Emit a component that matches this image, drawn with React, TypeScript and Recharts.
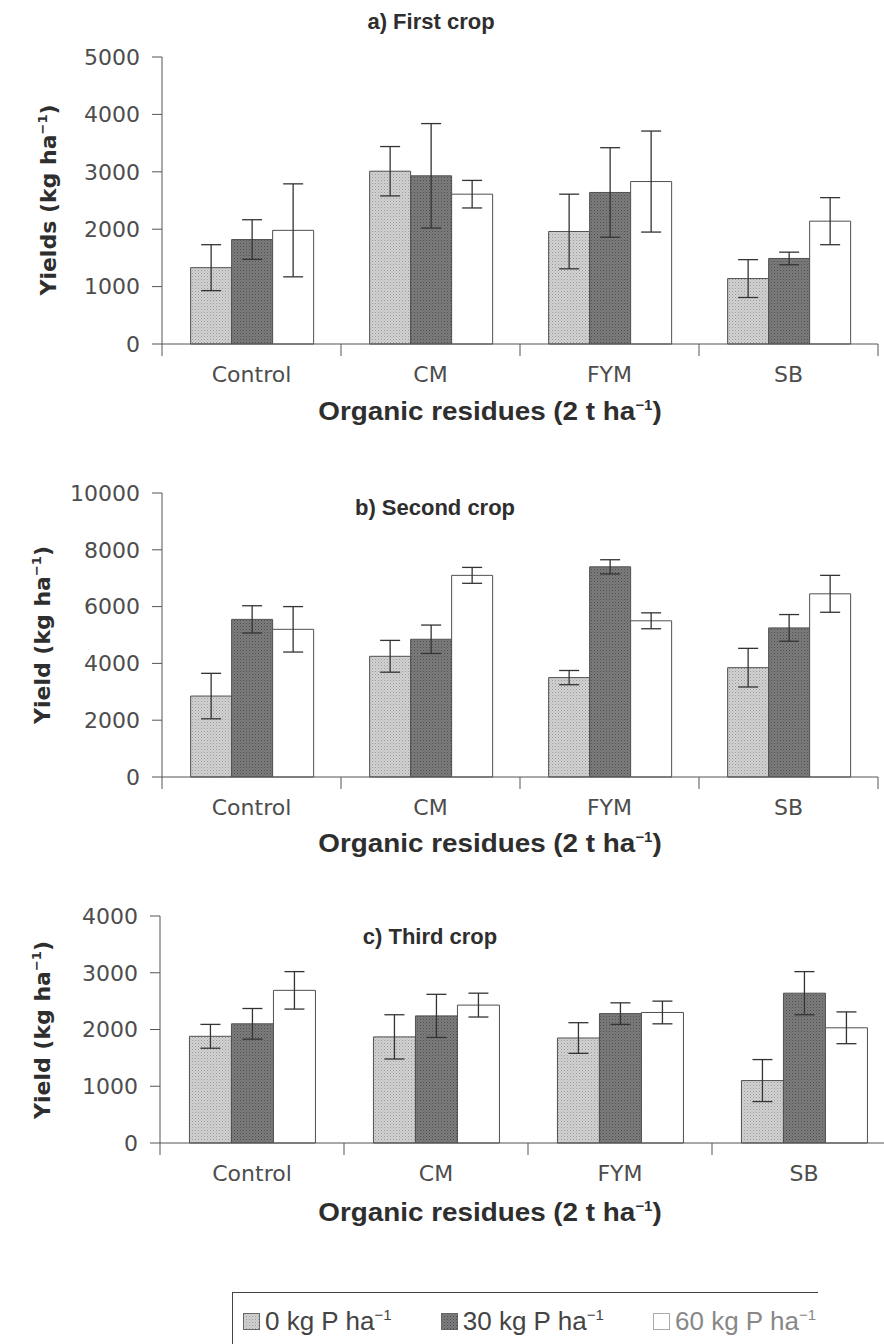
import React from 'react';
import { BarChart, Bar, XAxis, YAxis, ErrorBar } from 'recharts';

const categories = ['Control', 'CM', 'FYM', 'SB'];

// a) First crop
const firstP0 = [1330, 3010, 1960, 1140];
const firstP0Err = [400, 430, 650, 330];
const firstP30 = [1820, 2930, 2640, 1490];
const firstP30Err = [345, 910, 780, 110];
const firstP60 = [1980, 2610, 2830, 2140];
const firstP60Err = [810, 240, 880, 410];

// b) Second crop
const secondP0 = [2850, 4250, 3500, 3850];
const secondP0Err = [800, 560, 250, 680];
const secondP30 = [5550, 4850, 7400, 5250];
const secondP30Err = [480, 500, 250, 470];
const secondP60 = [5200, 7100, 5500, 6450];
const secondP60Err = [800, 280, 280, 650];

// c) Third crop
const thirdP0 = [1880, 1870, 1850, 1100];
const thirdP0Err = [210, 390, 270, 370];
const thirdP30 = [2100, 2240, 2280, 2640];
const thirdP30Err = [270, 380, 190, 380];
const thirdP60 = [2690, 2430, 2300, 2030];
const thirdP60Err = [330, 210, 200, 280];

const firstTicks = [0, 1000, 2000, 3000, 4000, 5000];
const secondTicks = [0, 2000, 4000, 6000, 8000, 10000];
const thirdTicks = [0, 1000, 2000, 3000, 4000];

const legendLabels = ['0 kg P ha', '30 kg P ha', '60 kg P ha'];

const buildRows = (p0: number[], e0: number[], p30: number[], e30: number[], p60: number[], e60: number[]) =>
  categories.map((name, i) => ({
    name,
    p0: p0[i],
    e0: e0[i],
    p30: p30[i],
    e30: e30[i],
    p60: p60[i],
    e60: e60[i],
  }));

const tickFont = { fontFamily: 'DejaVu Sans', fontSize: 22, fill: '#4d4d4d' };
const axisColor = '#555';
const barFills = ['url(#pat0)', 'url(#pat30)', '#ffffff'];
const LABEL_GAP = 22;

function Patterns() {
  return (
    <svg width={0} height={0} style={{ position: 'absolute' }}>
      <defs>
        <pattern id="pat0" width={3} height={3} patternUnits="userSpaceOnUse">
          <rect width={3} height={3} fill="#d2d2d2" />
          <rect width={1} height={1} fill="#9a9a9a" />
          <rect x={1.5} y={1.5} width={1} height={1} fill="#b0b0b0" />
        </pattern>
        <pattern id="pat30" width={3} height={3} patternUnits="userSpaceOnUse">
          <rect width={3} height={3} fill="#7c7c7c" />
          <rect width={1} height={1} fill="#4e4e4e" />
          <rect x={1.5} y={1.5} width={1} height={1} fill="#5e5e5e" />
        </pattern>
      </defs>
    </svg>
  );
}

// category label plus the tick marks that sit on the band edges
function makeCategoryTick(band: number) {
  return function CategoryTick(props: any) {
    const { x, y, payload, index } = props;
    const axisY = y - LABEL_GAP;
    return (
      <g>
        <line x1={x - band / 2} x2={x - band / 2} y1={axisY} y2={axisY + 12} stroke={axisColor} />
        {index === categories.length - 1 && (
          <line x1={x + band / 2} x2={x + band / 2} y1={axisY} y2={axisY + 12} stroke={axisColor} />
        )}
        <text x={x} y={y} dy="0.71em" textAnchor="middle" {...tickFont}>
          {payload.value}
        </text>
      </g>
    );
  };
}

interface PanelProps {
  top: number;
  width: number;
  height: number;
  plotTop: number;
  plotLeft: number;
  rightMargin: number;
  yMax: number;
  yTicks: number[];
  rows: ReturnType<typeof buildRows>;
}

function Panel({ top, width, height, plotTop, plotLeft, rightMargin, yMax, yTicks, rows }: PanelProps) {
  const band = (width - plotLeft - rightMargin) / categories.length;
  return (
    <div style={{ position: 'absolute', top, left: 0 }}>
      <BarChart
        width={width}
        height={height}
        data={rows}
        margin={{ top: plotTop, right: rightMargin, left: 0, bottom: 14 }}
        barCategoryGap="16%"
        barGap={0}
      >
        <XAxis
          dataKey="name"
          height={34}
          stroke={axisColor}
          tickLine={false}
          tickSize={0}
          tickMargin={LABEL_GAP}
          tick={makeCategoryTick(band)}
          interval={0}
        />
        <YAxis
          width={plotLeft}
          domain={[0, yMax]}
          ticks={yTicks}
          tickSize={10}
          tickMargin={12}
          tick={tickFont}
          stroke={axisColor}
          interval={0}
        />
        {(['p0', 'p30', 'p60'] as const).map((key, i) => (
          <Bar
            key={key}
            dataKey={key}
            fill={barFills[i]}
            stroke="#505050"
            strokeWidth={1}
            isAnimationActive={false}
          >
            <ErrorBar
              dataKey={['e0', 'e30', 'e60'][i]}
              width={10}
              stroke="#333"
              strokeWidth={1.3}
              direction="y"
            />
          </Bar>
        ))}
      </BarChart>
    </div>
  );
}

const boldText: React.CSSProperties = {
  position: 'absolute',
  fontFamily: 'Liberation Sans',
  fontWeight: 700,
  color: '#2e2e2e',
  whiteSpace: 'nowrap',
  transform: 'translate(-50%, -50%)',
};

function Title({ x, y, text }: { x: number; y: number; text: string }) {
  return <div style={{ ...boldText, left: x, top: y, fontSize: 22 }}>{text}</div>;
}

function XLabel({ y }: { y: number }) {
  return (
    <div style={{ ...boldText, left: 490, top: y, fontSize: 26, transform: 'translate(-50%, -50%) scaleX(1.07)' }}>
      Organic residues (2 t ha<sup style={{ fontSize: 14 }}>−1</sup>)
    </div>
  );
}

function YLabel({ x, y, text }: { x: number; y: number; text: string }) {
  return (
    <div
      style={{
        ...boldText,
        fontFamily: 'DejaVu Sans',
        left: x,
        top: y,
        fontSize: 22,
        transform: 'translate(-50%, -50%) rotate(-90deg)',
      }}
    >
      {text} (kg ha<sup style={{ fontSize: 13 }}>−1</sup>)
    </div>
  );
}

function LegendBox() {
  return (
    <div
      style={{
        position: 'absolute',
        left: 232,
        top: 1292,
        width: 586,
        height: 56,
        borderTop: '1.5px solid #444',
        borderLeft: '1.5px solid #444',
        display: 'flex',
        alignItems: 'center',
        justifyContent: 'space-between',
        paddingLeft: 10,
        paddingRight: 2,
        paddingTop: 2,
        boxSizing: 'border-box',
        fontFamily: 'Liberation Sans',
        fontSize: 26,
        color: '#444',
        whiteSpace: 'nowrap',
      }}
    >
      {legendLabels.map((label, i) => (
        <span key={label} style={{ display: 'inline-flex', alignItems: 'center' }}>
          <svg width={17} height={17} style={{ marginRight: 5 }}>
            <rect x={0.5} y={0.5} width={16} height={16} fill={barFills[i]} stroke={i === 2 ? '#aaa' : '#666'} />
          </svg>
          <span style={{ color: i === 2 ? '#888' : '#444' }}>
            {label}
            <sup style={{ fontSize: 15 }}>−1</sup>
          </span>
        </span>
      ))}
    </div>
  );
}

export default function App() {
  const firstRows = buildRows(firstP0, firstP0Err, firstP30, firstP30Err, firstP60, firstP60Err);
  const secondRows = buildRows(secondP0, secondP0Err, secondP30, secondP30Err, secondP60, secondP60Err);
  const thirdRows = buildRows(thirdP0, thirdP0Err, thirdP30, thirdP30Err, thirdP60, thirdP60Err);

  return (
    <div
      style={{
        position: 'absolute',
        top: 0,
        left: 0,
        width: 884,
        height: 1344,
        overflow: 'hidden',
        background: '#fff',
      }}
    >
      <Patterns />

      <Title x={431} y={22} text="a) First crop" />
      <Panel
        top={0}
        width={884}
        height={392}
        plotTop={57}
        plotLeft={162}
        rightMargin={6}
        yMax={5000}
        yTicks={firstTicks}
        rows={firstRows}
      />
      <YLabel x={48} y={200} text="Yields" />
      <XLabel y={411} />

      <Title x={435} y={508} text="b) Second crop" />
      <Panel
        top={440}
        width={884}
        height={385}
        plotTop={53}
        plotLeft={162}
        rightMargin={6}
        yMax={10000}
        yTicks={secondTicks}
        rows={secondRows}
      />
      <YLabel x={42} y={635} text="Yield" />
      <XLabel y={843} />

      <Title x={430} y={937} text="c) Third crop" />
      <Panel
        top={860}
        width={900}
        height={331}
        plotTop={56}
        plotLeft={160}
        rightMargin={4}
        yMax={4000}
        yTicks={thirdTicks}
        rows={thirdRows}
      />
      <YLabel x={42} y={1030} text="Yield" />
      <XLabel y={1212} />

      <LegendBox />
    </div>
  );
}
